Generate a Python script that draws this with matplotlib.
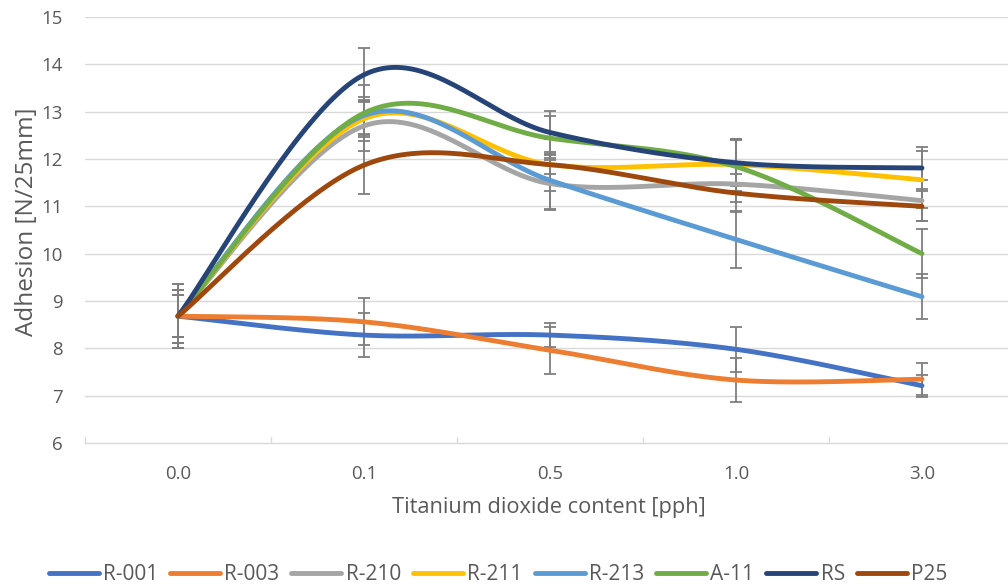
import numpy as np
import matplotlib
matplotlib.use("Agg")
import matplotlib.pyplot as plt
from matplotlib.ticker import FixedLocator

plt.rcParams['font.family'] = ['Open Sans', 'DejaVu Sans']

categories = ["0.0", "0.1", "0.5", "1.0", "3.0"]
series_names = ["R-001", "R-003", "R-210", "R-211", "R-213", "A-11", "RS", "P25"]
colors = ["#4472C4", "#ED7D31", "#A5A5A5", "#FFC000", "#5B9BD5", "#70AD47", "#264478", "#9E480E"]

r001 = [8.68, 8.28, 8.28, 7.98, 7.21]
r003 = [8.68, 8.56, 7.96, 7.33, 7.35]
r210 = [8.68, 12.70, 11.48, 11.47, 11.12]
r211 = [8.68, 12.85, 11.88, 11.88, 11.56]
r213 = [8.68, 12.92, 11.55, 10.30, 9.09]
a11 = [8.68, 12.97, 12.44, 11.84, 10.00]
rs = [8.68, 13.78, 12.56, 11.92, 11.81]
p25 = [8.68, 11.87, 11.88, 11.28, 11.00]

r001_err = [0.45, 0.46, 0.26, 0.47, 0.23]
r003_err = [0.56, 0.50, 0.50, 0.47, 0.33]
r210_err = [0.68, 0.54, 0.55, 0.38, 0.44]
r211_err = [0.45, 0.35, 0.20, 0.55, 0.60]
r213_err = [0.56, 0.40, 0.60, 0.60, 0.48]
a11_err = [0.68, 0.59, 0.46, 0.56, 0.52]
rs_err = [0.45, 0.56, 0.46, 0.50, 0.45]
p25_err = [0.56, 0.60, 0.55, 0.40, 0.32]

values = [r001, r003, r210, r211, r213, a11, rs, p25]
errors = [r001_err, r003_err, r210_err, r211_err, r213_err, a11_err, rs_err, p25_err]


def smooth(xs, ys, n=40):
    xs = np.asarray(xs, float)
    ys = np.asarray(ys, float)
    px = np.concatenate([[xs[0]], xs, [xs[-1]]])
    py = np.concatenate([[ys[0]], ys, [ys[-1]]])
    ox, oy = [], []
    t = np.linspace(0, 1, n)
    for i in range(1, len(px) - 2):
        p0 = np.array([px[i], py[i]])
        p3 = np.array([px[i + 1], py[i + 1]])
        c1 = p0 + (np.array([px[i + 1], py[i + 1]]) - np.array([px[i - 1], py[i - 1]])) / 6.0
        c2 = p3 - (np.array([px[i + 2], py[i + 2]]) - np.array([px[i], py[i]])) / 6.0
        b = ((1 - t) ** 3)[:, None] * p0 + (3 * (1 - t) ** 2 * t)[:, None] * c1 \
            + (3 * (1 - t) * t ** 2)[:, None] * c2 + (t ** 3)[:, None] * p3
        ox.extend(b[:, 0])
        oy.extend(b[:, 1])
    return np.array(ox), np.array(oy)


fig = plt.figure(figsize=(10.08, 5.84), dpi=100)
W, H = 1008, 584
ax = fig.add_axes([85 / W, 1 - 443 / H, (1008 - 85) / W, (443 - 17) / H])

x = np.arange(len(categories))
grid_col = "#D9D9D9"
text_col = "#595959"
for yv in range(7, 16):
    ax.axhline(yv, color=grid_col, lw=1.0, zorder=0)

for name, col, vals, errs in zip(series_names, colors, values, errors):
    ax.errorbar(x, vals, yerr=errs, fmt='none', ecolor="#7F7F7F", elinewidth=1.3,
                capsize=4, capthick=1.3, zorder=1.5)

for name, col, vals in zip(series_names, colors, values):
    sx, sy = smooth(x, vals)
    ax.plot(sx, sy, color=col, lw=3.5, label=name, solid_capstyle='round', zorder=2)

ax.set_ylim(6, 15)
ax.set_xlim(-0.5, -0.5 + (1008 - 85) / 186.0)
ax.set_yticks(range(6, 16))
ax.set_xticks(x)
ax.set_xticklabels(categories)
ax.xaxis.set_minor_locator(FixedLocator(np.arange(-0.5, 5.0, 1.0)))

for s in ["top", "right", "left"]:
    ax.spines[s].set_visible(False)
ax.spines["bottom"].set_color(grid_col)
ax.spines["bottom"].set_linewidth(1.0)

ax.tick_params(axis='y', length=0, pad=16, labelsize=13.4, labelcolor=text_col)
ax.tick_params(axis='x', which='major', length=0, pad=16, labelsize=13.4, labelcolor=text_col)
ax.tick_params(axis='x', which='minor', direction='in', length=4.5, color=grid_col, width=1.0)

fig.text(549 / W, 1 - 508 / H, "Titanium dioxide content [pph]", ha='center', va='center',
         fontsize=15.7, color=text_col)
fig.text(27 / W, 1 - 222 / H, "Adhesion [N/25mm]", ha='center', va='center', rotation=90,
         fontsize=17.5, color=text_col)

leg = fig.legend(loc='center', bbox_to_anchor=(498 / W, 1 - 575 / H), ncol=8, frameon=False,
                 fontsize=15, handlelength=2.4, handletextpad=0.2, columnspacing=0.58,
                 labelcolor=text_col)
for line in leg.get_lines():
    line.set_linewidth(3.5)

fig.savefig("out.png", dpi=100)
